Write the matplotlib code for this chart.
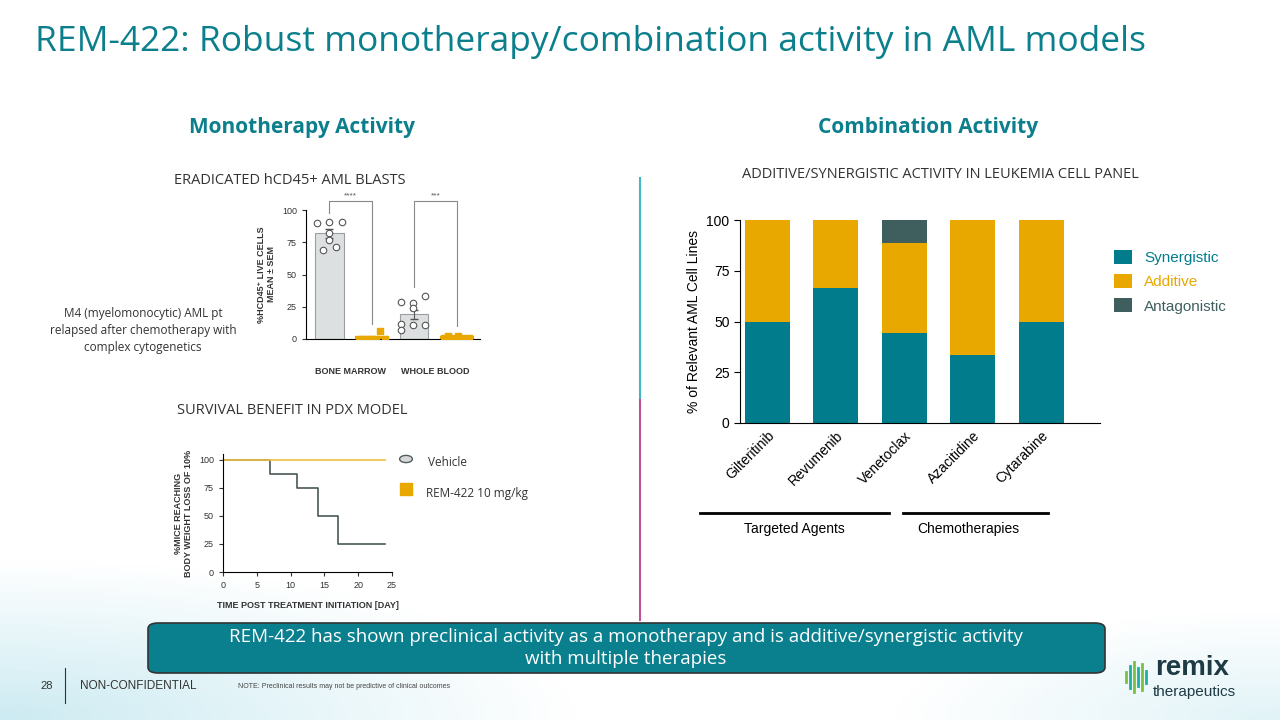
import numpy as np
import matplotlib.pyplot as plt
from matplotlib.patches import FancyBboxPatch
from matplotlib.colors import LinearSegmentedColormap

# combination panel data
drugs = ["Gilteritinib", "Revumenib", "Venetoclax", "Azacitidine", "Cytarabine"]
synergistic = [50, 66.7, 44.4, 33.3, 50]
additive = [50, 33.3, 44.4, 66.7, 50]
antagonistic = [0, 0, 11.2, 0, 0]

# monotherapy blasts
groups = ["BONE MARROW", "WHOLE BLOOD"]
vehicle_mean = [82, 19]
vehicle_sem = [3.5, 3.5]
vehicle_pts = [[90, 91, 91, 82, 77, 69, 71], [29, 28, 24, 33, 12, 11, 11, 7]]
vehicle_jit = [[-0.3, 0.0, 0.3, 0.0, 0.0, -0.15, 0.15], [-0.3, -0.02, -0.02, 0.25, -0.3, -0.02, 0.25, -0.3]]
rem_mean = [0.5, 1]
rem_pts = [[0, 0, 0, 0, 0, 6, 0], [1, 2, 1, 0, 2, 1, 0, 1]]

# survival
veh_days = [0, 7, 11, 14, 17, 24]
veh_surv = [100, 87.5, 75, 50, 25, 25]
rem_days = [0, 24]
rem_surv = [100, 100]

TEAL = "#007C8C"
ORANGE = "#E8A800"
DARK = "#3F5F5F"
TITLE = "#0B7F8C"

plt.rcParams['font.family'] = ['Liberation Sans', 'DejaVu Sans']
fig = plt.figure(figsize=(12.8, 7.2), dpi=100)
W, H = 1280, 720


def ax_px(x0, y0, x1, y1):
    return fig.add_axes([x0 / W, 1 - y1 / H, (x1 - x0) / W, (y1 - y0) / H])


def txt(x, y, s, **kw):
    fig.text(x / W, 1 - y / H, s, **kw)


# faint gradient at the bottom corners
bg = fig.add_axes([0, 0, 1, 1], zorder=-10)
yy, xx = np.mgrid[0:1:200j, 0:1:200j]
g = np.clip(1 - np.hypot(xx / 0.45, yy / 0.22), 0, 1) + np.clip(1 - np.hypot((1 - xx) / 0.3, yy / 0.15), 0, 1) * 0.6
cm = LinearSegmentedColormap.from_list("bgc", ["#FFFFFF", "#CDEBF2"])
bg.imshow(g, cmap=cm, vmin=0, vmax=1, origin="lower", extent=[0, 1, 0, 1], aspect="auto")
bg.set_axis_off()

txt(35, 42, "REM-422: Robust monotherapy/combination activity in AML models",
    fontsize=25.5, color=TITLE, va="center", family="Open Sans")
txt(302, 127, "Monotherapy Activity", fontsize=15, color=TITLE, weight="bold", ha="center", va="center", family="Open Sans")
txt(928, 127, "Combination Activity", fontsize=15, color=TITLE, weight="bold", ha="center", va="center", family="Open Sans")
txt(290, 181, "ERADICATED hCD45+ AML BLASTS", fontsize=10.5, color="#333333", ha="center", va="center", family="Open Sans")
txt(292, 410, "SURVIVAL BENEFIT IN PDX MODEL", fontsize=10.5, color="#333333", ha="center", va="center", family="Open Sans")
txt(940, 174, "ADDITIVE/SYNERGISTIC ACTIVITY IN LEUKEMIA CELL PANEL", fontsize=10.5, color="#333333", ha="center", va="center", family="Open Sans")
txt(143, 331, "M4 (myelomonocytic) AML pt\nrelapsed after chemotherapy with\ncomplex cytogenetics",
    fontsize=8.5, color="#333333", ha="center", va="center", family="Open Sans", linespacing=1.4)

# divider
fig.add_artist(plt.Line2D([640 / W] * 2, [1 - 178 / H, 1 - 400 / H], color="#3FB8C8", lw=1.5))
fig.add_artist(plt.Line2D([640 / W] * 2, [1 - 400 / H, 1 - 620 / H], color="#C0509A", lw=1.5))

# blasts panel
ax1 = ax_px(306, 210, 480, 339)
ax1.patch.set_alpha(0)
ax1.bar([0, 2], vehicle_mean, width=0.67, color="#DCE0E0", edgecolor="#9AA0A0", lw=0.8)
ax1.errorbar([0, 2], vehicle_mean, yerr=vehicle_sem, fmt="none", ecolor="#555", capsize=3, lw=0.8)
for i, pts in enumerate(vehicle_pts):
    xs = np.array(vehicle_jit[i]) + 2 * i
    ax1.scatter(xs, pts, s=22, facecolor="white", edgecolor="#555", lw=0.8, zorder=3)
for i, pts in enumerate(rem_pts):
    xs = np.linspace(-0.3, 0.3, len(pts)) + 2 * i + 1
    ax1.scatter(xs, pts, s=14, marker="s", color=ORANGE, zorder=3)
    ax1.plot([2 * i + 0.65, 2 * i + 1.35], [rem_mean[i]] * 2, color=ORANGE, lw=3)
ax1.set_xlim(-0.55, 3.55)
ax1.set_ylim(0, 100)
ax1.set_yticks([0, 25, 50, 75, 100])
ax1.set_xticks([0.5, 2.5])
ax1.set_xticklabels(groups, fontsize=6.5, weight="bold", color="#333")
ax1.tick_params(axis="x", length=0, pad=20)
ax1.tick_params(axis="y", labelsize=6.5, length=3, colors="#333")
for s in ["top", "right"]:
    ax1.spines[s].set_visible(False)
ax1.set_ylabel("%HCD45⁺ LIVE CELLS\nMEAN ± SEM", fontsize=6.5, weight="bold", color="#333")
for i, lab in enumerate(["****", "***"]):
    ax1.plot([2 * i, 2 * i, 2 * i + 1, 2 * i + 1], [98 if i == 0 else 40, 107, 107, 12 if i == 0 else 10],
             color="#888", lw=0.8, clip_on=False)
    ax1.text(2 * i + 0.5, 108, lab, ha="center", va="bottom", fontsize=6, color="#555")

# survival panel
ax2 = ax_px(223, 454, 392, 572)
ax2.patch.set_alpha(0)
ax2.step(veh_days, veh_surv, where="post", color="#4A5858", lw=1.2)
ax2.plot(rem_days, rem_surv, color="#F0C040", lw=1.2)
ax2.set_xlim(0, 25)
ax2.set_ylim(0, 105)
ax2.set_xticks([0, 5, 10, 15, 20, 25])
ax2.set_yticks([0, 25, 50, 75, 100])
ax2.tick_params(labelsize=6.5, length=3, colors="#333")
for s in ["top", "right"]:
    ax2.spines[s].set_visible(False)
ax2.set_xlabel("TIME POST TREATMENT INITIATION [DAY]", fontsize=6.5, weight="bold", color="#333", labelpad=8)
ax2.set_ylabel("%MICE REACHING\nBODY WEIGHT LOSS OF 10%", fontsize=6.5, weight="bold", color="#333")
fig.add_artist(plt.Circle((406 / W, 1 - 459 / H), 0.005, color="#D8D8D8", ec="#506060", transform=fig.transFigure))
fig.add_artist(plt.Rectangle((400 / W, 1 - 495 / H), 12 / W, 12 / H, color=ORANGE, transform=fig.transFigure))
txt(428, 462, "Vehicle", fontsize=8.5, color="#333", va="center", family="Open Sans")
txt(426, 494, "REM-422 10 mg/kg", fontsize=8.5, color="#333", va="center", family="Open Sans")

# combination panel
ax3 = ax_px(740, 220, 1100, 423)
ax3.patch.set_alpha(0)
x = np.arange(len(drugs))
ax3.bar(x, synergistic, width=0.66, color=TEAL, label="Synergistic")
ax3.bar(x, additive, width=0.66, bottom=synergistic, color=ORANGE, label="Additive")
ax3.bar(x, antagonistic, width=0.66, bottom=np.add(synergistic, additive), color=DARK, label="Antagonistic")
ax3.set_xlim(-0.4, 4.86)
ax3.set_ylim(0, 100)
ax3.set_yticks([0, 25, 50, 75, 100])
ax3.set_xticks(x)
ax3.set_xticklabels(drugs, rotation=45, ha="right", rotation_mode="anchor", fontsize=10)
ax3.tick_params(axis="x", length=0, pad=4)
ax3.tick_params(axis="y", labelsize=10, length=4)
for s in ["top", "right"]:
    ax3.spines[s].set_visible(False)
ax3.set_ylabel("% of Relevant AML Cell Lines", fontsize=10)
ax3.legend(loc="upper left", bbox_to_anchor=(1.0, 0.92), frameon=False, fontsize=11,
           labelcolor=[TEAL, ORANGE, DARK], handlelength=1.2, handleheight=1.0, labelspacing=0.6)
fig.add_artist(plt.Line2D([700 / W, 889 / W], [1 - 513 / H] * 2, color="black", lw=2))
fig.add_artist(plt.Line2D([903 / W, 1048 / W], [1 - 513 / H] * 2, color="black", lw=2))
txt(794, 529, "Targeted Agents", fontsize=10, ha="center", va="center")
txt(968, 529, "Chemotherapies", fontsize=10, ha="center", va="center")

# bottom banner
box = FancyBboxPatch((148 / W, 1 - 673 / H), 957 / W, 50 / H, boxstyle="round,pad=0,rounding_size=0.008",
                     transform=fig.transFigure, fc="#0A7F8E", ec="#333", lw=1.2)
fig.add_artist(box)
txt(626, 648, "REM-422 has shown preclinical activity as a monotherapy and is additive/synergistic activity\nwith multiple therapies",
    fontsize=13.5, color="white", ha="center", va="center", family="Open Sans", linespacing=1.3)

# footer
txt(40, 686, "28", fontsize=8, color="#333", va="center")
fig.add_artist(plt.Line2D([65 / W] * 2, [1 - 668 / H, 1 - 703 / H], color="#333", lw=0.8))
txt(80, 686, "NON-CONFIDENTIAL", fontsize=8.5, color="#333", va="center")
txt(238, 686, "NOTE: Preclinical results may not be predictive of clinical outcomes", fontsize=5, color="#444", va="center")
txt(1155, 668, "remix", fontsize=20, weight="bold", color="#1E3A45", va="center")
txt(1153, 692, "therapeutics", fontsize=11, color="#1E3A45", va="center")
for i, h in enumerate([10, 22, 30, 18, 26, 12]):
    c = "#1FB0A0" if i % 2 else "#7BC043"
    fig.add_artist(plt.Line2D([(1126 + i * 4) / W] * 2, [1 - (677 - h / 2) / H, 1 - (677 + h / 2) / H], color=c, lw=2))

fig.savefig("out.png", dpi=100)
